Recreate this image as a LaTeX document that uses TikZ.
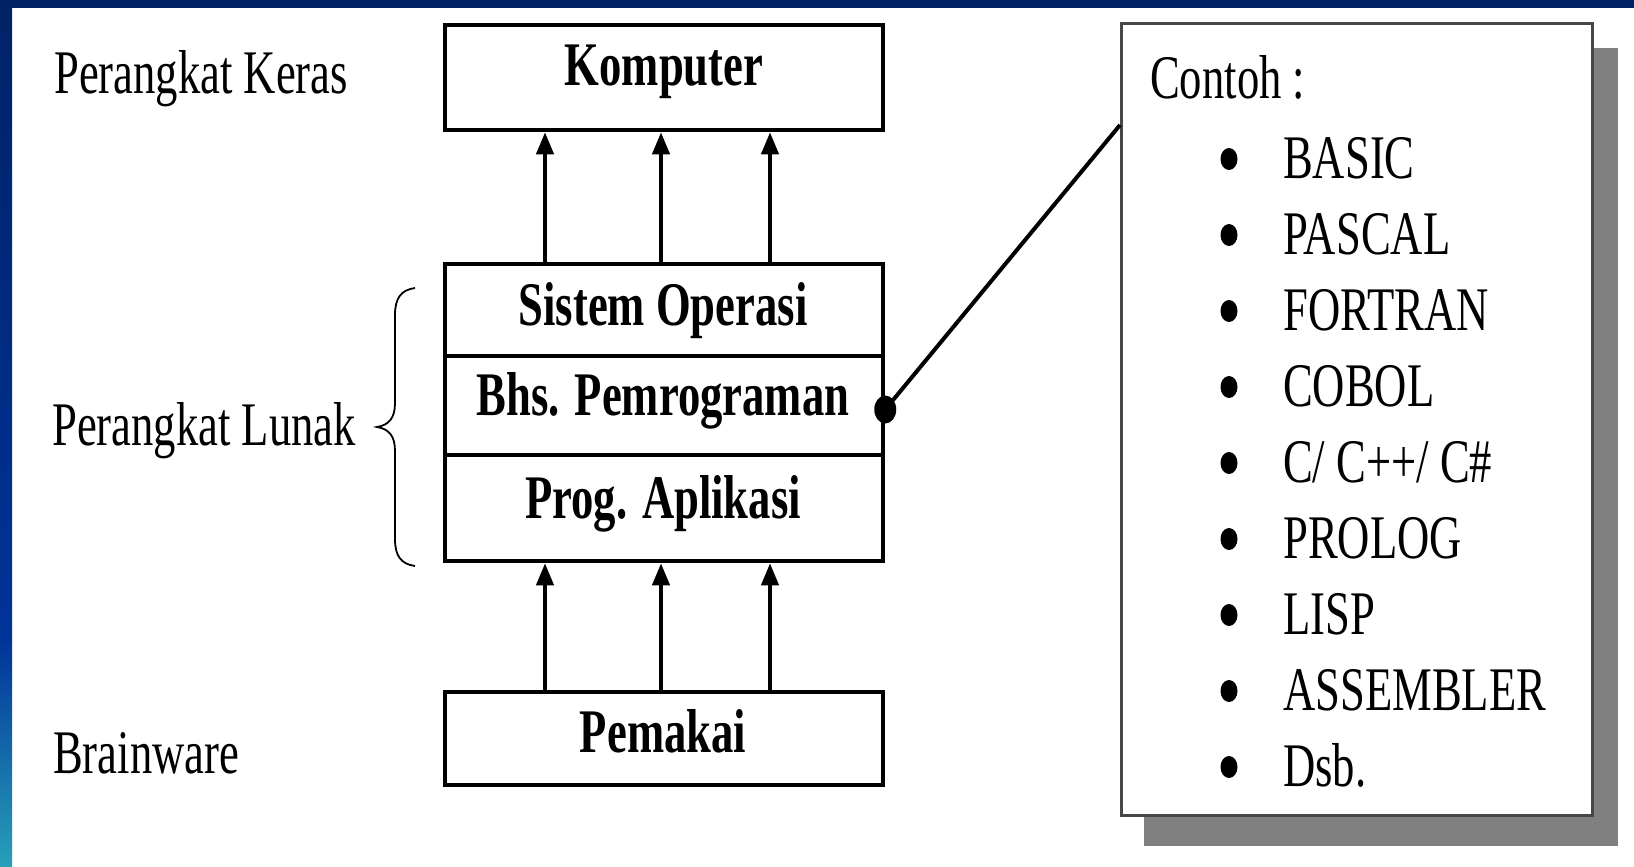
\documentclass[tikz,border=0pt]{standalone}
\usepackage{fontspec}
\setmainfont{Liberation Serif}[FakeStretch=0.72]
\usetikzlibrary{arrows.meta,calc}
\definecolor{navy}{RGB}{0,34,102}
\definecolor{midblue}{RGB}{0,51,153}
\definecolor{tealb}{RGB}{40,160,185}
\definecolor{shadowgray}{RGB}{128,128,128}
\tikzset{
  box/.style={draw=black, line width=4.5pt, inner sep=0pt, minimum width=438pt, fill=white},
  lbl/.style={inner sep=0pt, anchor=base west, font=\fontsize{62}{70}\selectfont},
  boxtxt/.style={inner sep=0pt, anchor=base, font=\fontsize{62}{70}\selectfont\bfseries},
  itemtxt/.style={inner sep=0pt, anchor=base west, font=\fontsize{62}{70}\selectfont},
  arr/.style={line width=4pt, -{Triangle[length=22pt,width=17pt]}},
  listbox/.style={draw=black!72, line width=3pt, inner sep=0pt, fill=white, minimum width=471pt, minimum height=792pt},
}
\begin{document}
\begin{tikzpicture}[x=1pt,y=-1pt]
\useasboundingbox (0,0) rectangle (1634,867);
\fill[white] (0,0) rectangle (1634,867);
% frame
\fill[navy] (0,0) rectangle (1634,8);
\shade[top color=navy, bottom color=midblue] (0,0) rectangle (12,640);
\shade[top color=midblue, bottom color=tealb] (0,640) rectangle (12,867);

% left labels
\node[lbl] (lk) at (54,93) {Perangkat Keras};
\node[lbl] (ll) at (52,445) {Perangkat Lunak};
\node[lbl] (lb) at (53,773) {Brainware};

% brace
\draw[line width=1.8pt] (415,288) .. controls (401,290) and (395,298) .. (395,315) -- (395,403) .. controls (395,418) and (389,425) .. (377,427) .. controls (389,429) and (395,436) .. (395,451) -- (395,539) .. controls (395,556) and (401,564) .. (415,566);

% boxes
\node[box, minimum height=105pt] (komp) at (664,77.5) {};
\node[box, minimum height=92pt] (so) at (664,310) {};
\node[box, minimum height=99pt] (bhs) at (664,405.5) {};
\node[box, minimum height=106pt] (prog) at (664,508) {};
\node[box, minimum height=93pt] (pem) at (664,738.5) {};

\node[boxtxt] (kompt) at (664,85) {Komputer};
\node[boxtxt] (sot) at (663,325) {Sistem Operasi};
\node[boxtxt] (bhst) at (663,415) {Bhs. Pemrograman};
\node[boxtxt] (progt) at (663,518) {Prog. Aplikasi};
\node[boxtxt] (pemt) at (663,752) {Pemakai};

% arrow columns
\coordinate (c1) at (545,0);
\coordinate (c2) at (661,0);
\coordinate (c3) at (770,0);
\foreach \c in {c1,c2,c3}{
  \draw[arr] (so.north -| \c) -- (komp.south -| \c);
  \draw[arr] (pem.north -| \c) -- (prog.south -| \c);
}

% list box with shadow
\fill[shadowgray] (1144,48) rectangle (1618,846);
\node[listbox] (contoh) at (1357,419.5) {};
\coordinate (cend) at (1120,125);
\coordinate (dot) at ($(bhs.east)+(0,4)$);
\draw[line width=4pt] (dot) -- (cend);
\fill (dot) ellipse [x radius=11pt, y radius=14pt];

\node[itemtxt] (ct) at (1150,99) {Contoh :};
\foreach \t [count=\i from 0] in {BASIC,PASCAL,FORTRAN,COBOL,{C/ C++/ C\#},PROLOG,LISP,ASSEMBLER,Dsb.}{
  \node[itemtxt] (it\i) at (1283,178+76*\i) {\t};
  \fill (1229,159+76*\i) ellipse [x radius=8.5pt, y radius=11pt];
}
\end{tikzpicture}
\end{document}
